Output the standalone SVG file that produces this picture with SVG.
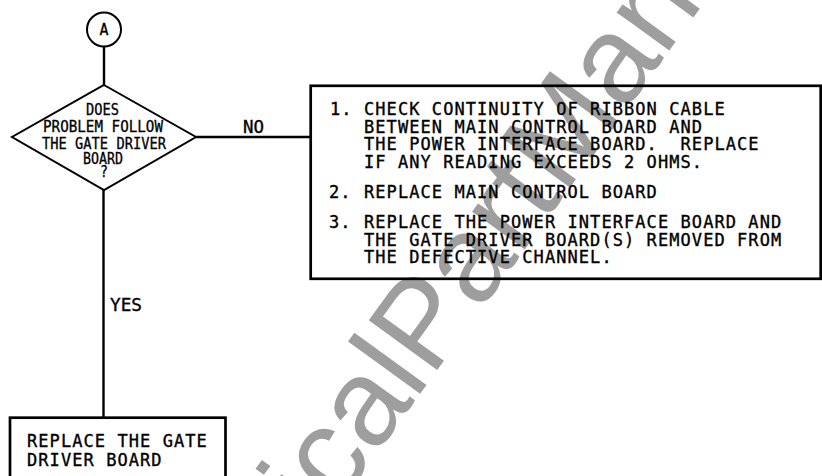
<svg xmlns="http://www.w3.org/2000/svg" width="822" height="476" viewBox="0 0 822 476">
  <style>
    .shape { fill: none; stroke: #000; }
    .thin { stroke-width: 2; }
    .thick { stroke-width: 2.7; }
    .conn { stroke: #000; stroke-width: 2.4; fill: none; }
    .txt { font-family: "DejaVu Sans Mono", "Liberation Mono", monospace; font-size: 17px; letter-spacing: 1.07px; fill: #000; stroke: #000; stroke-width: 0.35; white-space: pre; }
    .dtxt { font-family: "DejaVu Sans Mono", "Liberation Mono", monospace; font-size: 15.5px; fill: #000; stroke: #000; stroke-width: 0.3; }
    .wm { font-family: "Liberation Sans", Arial, sans-serif; font-size: 123px; fill: #9e9e9e; }
  </style>
  <rect x="0" y="0" width="822" height="476" fill="#fff"/>

  <g id="watermark">
    <text class="wm" transform="translate(138,782) rotate(-54)" x="0" y="0">ElectricalPartManuals</text>
  </g>

  <g id="connectors">
    <line class="conn" x1="104" y1="47" x2="104" y2="86"/>
    <line class="conn" x1="196" y1="137" x2="310" y2="137"/>
    <line class="conn" x1="103.5" y1="190" x2="103.5" y2="417"/>
    <text class="txt" x="243" y="133" textLength="21" lengthAdjust="spacingAndGlyphs" style="letter-spacing:0">NO</text>
    <text class="txt" x="110" y="311" textLength="32" lengthAdjust="spacingAndGlyphs" style="letter-spacing:0">YES</text>
  </g>

  <g id="node-a">
    <circle class="shape thin" cx="104" cy="29.5" r="17"/>
    <text class="dtxt" x="104" y="35" text-anchor="middle" style="font-size:15px">A</text>
  </g>

  <g id="node-decision">
    <polygon class="shape thin" points="104,85 196,137 104,190 12,137"/>
    <text class="dtxt" x="86" y="115" textLength="33" lengthAdjust="spacingAndGlyphs">DOES</text>
    <text class="dtxt" x="43" y="132" textLength="120" lengthAdjust="spacingAndGlyphs">PROBLEM FOLLOW</text>
    <text class="dtxt" x="42" y="149" textLength="124" lengthAdjust="spacingAndGlyphs">THE GATE DRIVER</text>
    <text class="dtxt" x="83" y="163.5" textLength="40" lengthAdjust="spacingAndGlyphs">BOARD</text>
    <text class="dtxt" x="100" y="177" textLength="8" lengthAdjust="spacingAndGlyphs">?</text>
  </g>

  <g id="node-action-no">
    <rect class="shape thick" x="310.7" y="85.8" width="510" height="193"/>
    <text class="txt" x="330" y="115">1.</text>
    <text class="txt" x="364" y="115">CHECK CONTINUITY OF RIBBON CABLE</text>
    <text class="txt" x="364" y="132.5">BETWEEN MAIN CONTROL BOARD AND</text>
    <text class="txt" x="364" y="150" xml:space="preserve">THE POWER INTERFACE BOARD.  REPLACE</text>
    <text class="txt" x="364" y="167.5">IF ANY READING EXCEEDS 2 OHMS.</text>
    <text class="txt" x="329" y="197.5">2.</text>
    <text class="txt" x="364" y="197.5">REPLACE MAIN CONTROL BOARD</text>
    <text class="txt" x="329" y="228">3.</text>
    <text class="txt" x="364" y="228">REPLACE THE POWER INTERFACE BOARD AND</text>
    <text class="txt" x="364" y="245.5">THE GATE DRIVER BOARD(S) REMOVED FROM</text>
    <text class="txt" x="364" y="263">THE DEFECTIVE CHANNEL.</text>
  </g>

  <g id="node-action-yes">
    <rect class="shape thick" x="10" y="417.7" width="215.5" height="80"/>
    <text class="txt" x="27" y="447">REPLACE THE GATE</text>
    <text class="txt" x="27" y="465.5">DRIVER BOARD</text>
  </g>
</svg>
